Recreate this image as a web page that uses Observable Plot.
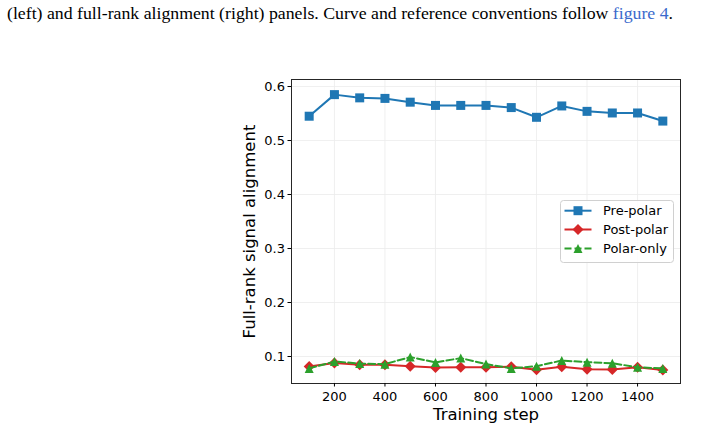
<!DOCTYPE html>
<html>
<head>
<meta charset="utf-8">
<script src="https://cdn.jsdelivr.net/npm/d3@7"></script>
<script src="https://cdn.jsdelivr.net/npm/@observablehq/plot@0.6"></script>
<style>
  html, body { margin: 0; padding: 0; background: #fff; }
  #wrap { position: relative; width: 714px; height: 431px; overflow: hidden; background: #fff; }
  #chart { position: absolute; left: 0; top: 0; }
  #overlay { position: absolute; left: 0; top: 0; pointer-events: none; }
</style>
</head>
<body>
<div id="wrap">
  <div id="chart"></div>
  <svg id="overlay" width="714" height="431"></svg>
</div>
<script>
// ---- data ----
const captionText = "(left) and full-rank alignment (right) panels. Curve and reference conventions follow ";
const captionRef = "figure 4";
const steps = [100, 200, 300, 400, 500, 600, 700, 800, 900, 1000, 1100, 1200, 1300, 1400, 1500];
const prePolar  = [0.545, 0.585, 0.579, 0.578, 0.571, 0.565, 0.565, 0.565, 0.561, 0.543, 0.564, 0.554, 0.551, 0.551, 0.536];
const postPolar = [0.0815, 0.088, 0.0846, 0.0846, 0.082, 0.0796, 0.080, 0.080, 0.081, 0.0753, 0.081, 0.0765, 0.076, 0.080, 0.075];
const polarOnly = [0.078, 0.0907, 0.087, 0.0858, 0.099, 0.089, 0.097, 0.086, 0.078, 0.082, 0.0926, 0.0895, 0.0876, 0.080, 0.078];
const seriesNames = ["Pre-polar", "Post-polar", "Polar-only"];
const seriesColors = ["#1f77b4", "#d62728", "#2ca02c"];
const xTicks = [200, 400, 600, 800, 1000, 1200, 1400];
const yTicks = [0.1, 0.2, 0.3, 0.4, 0.5, 0.6];
const xLabel = "Training step";
const yLabel = "Full-rank signal alignment";

// ---- matplotlib-like marker shapes (extent = sqrt(size)) ----
const mplSquare = { draw(ctx, size) { const h = Math.sqrt(size) / 2; ctx.moveTo(-h, -h); ctx.lineTo(h, -h); ctx.lineTo(h, h); ctx.lineTo(-h, h); ctx.closePath(); } };
const mplDiamond = { draw(ctx, size) { const h = Math.sqrt(size) / 2; ctx.moveTo(0, -h); ctx.lineTo(h, 0); ctx.lineTo(0, h); ctx.lineTo(-h, 0); ctx.closePath(); } };
const mplTriangle = { draw(ctx, size) { const h = Math.sqrt(size) / 2; ctx.moveTo(0, -h); ctx.lineTo(h, h); ctx.lineTo(-h, h); ctx.closePath(); } };
const symbols = [mplSquare, mplDiamond, mplTriangle];
const extents = [9, 11, 9];
const dashes = [null, null, "7,3"];

const valuesBySeries = [prePolar, postPolar, polarOnly];
const rows = [];
seriesNames.forEach((name, i) => valuesBySeries[i].forEach((v, j) => rows.push({ series: name, step: steps[j], value: v })));

const marks = [
  Plot.gridX(xTicks, { stroke: "#ebebeb", strokeOpacity: 1, strokeWidth: 0.8 }),
  Plot.gridY(yTicks, { stroke: "#ebebeb", strokeOpacity: 1, strokeWidth: 0.8 }),
];
seriesNames.forEach((name, i) => {
  const d = rows.filter(r => r.series === name);
  marks.push(Plot.line(d, { x: "step", y: "value", stroke: seriesColors[i], strokeWidth: 2, strokeDasharray: dashes[i] }));
  marks.push(Plot.dot(d, { x: "step", y: "value", symbol: symbols[i], r: extents[i] / Math.sqrt(Math.PI), fill: seriesColors[i], stroke: "none" }));
});
marks.push(
  Plot.frame({ stroke: "#262626", strokeWidth: 1 }),
  Plot.axisX({ ticks: xTicks, tickSize: 3.5, tickPadding: 4.5, tickFormat: d => String(d), label: null, stroke: "#000", fontSize: 13 }),
  Plot.axisY({ ticks: yTicks, tickSize: 3.5, tickPadding: 3, tickFormat: d => d.toFixed(1), label: null, stroke: "#000", fontSize: 13 }),
  Plot.text([xLabel], { frameAnchor: "bottom", lineAnchor: "middle", textAnchor: "middle", dy: 31, fontSize: 16.5, fill: "#000" }),
  Plot.text([yLabel], { frameAnchor: "left", lineAnchor: "middle", textAnchor: "middle", dx: -42, rotate: -90, fontSize: 16.5, fill: "#000" })
);

const chart = Plot.plot({
  width: 714,
  height: 431,
  marginLeft: 291,
  marginRight: 34,
  marginTop: 79,
  marginBottom: 48,
  x: { domain: [30, 1570] },
  y: { domain: [0.05, 0.613] },
  style: { fontFamily: "DejaVu Sans", fontSize: "13px", color: "#000", background: "transparent" },
  marks
});
document.getElementById("chart").appendChild(chart);

const ov = d3.select("#overlay");

// ---- caption (above the chart) ----
const cap = ov.append("text").attr("x", 7).attr("y", 19)
  .attr("font-family", "Liberation Serif").attr("font-size", 17.5).attr("fill", "#000")
  .attr("textLength", 666).attr("lengthAdjust", "spacingAndGlyphs");
cap.append("tspan").text(captionText);
cap.append("tspan").attr("fill", "#3a69cc").text(captionRef);
cap.append("tspan").text(".");

// ---- legend ----
const box = { x: 560.5, y: 200.5, w: 113, h: 62 };
ov.append("rect").attr("x", box.x).attr("y", box.y).attr("width", box.w).attr("height", box.h)
  .attr("rx", 3).attr("fill", "#fff").attr("fill-opacity", 0.85).attr("stroke", "#d0d0d0").attr("stroke-width", 1);
const rowY = [210.7, 229.5, 248.5];
seriesNames.forEach((name, i) => {
  const g = ov.append("g").attr("transform", `translate(0,${rowY[i]})`);
  g.append("line").attr("x1", 564.5).attr("x2", 591.5).attr("y1", 0).attr("y2", 0)
    .attr("stroke", seriesColors[i]).attr("stroke-width", 2).attr("stroke-dasharray", dashes[i]);
  g.append("path").attr("transform", "translate(578,0)")
    .attr("d", d3.symbol().type(symbols[i]).size(extents[i] * extents[i])())
    .attr("fill", seriesColors[i]);
  g.append("text").attr("x", 603).attr("y", 0).attr("dy", "0.35em")
    .attr("font-family", "DejaVu Sans").attr("font-size", 13).attr("fill", "#000").text(name);
});
</script>
</body>
</html>
